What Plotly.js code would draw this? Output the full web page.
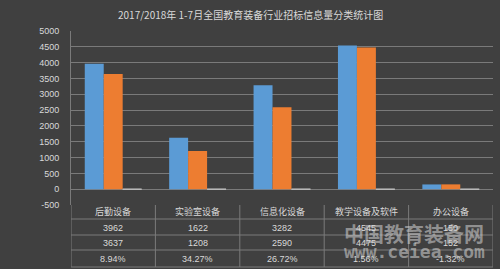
<!DOCTYPE html>
<html><head><meta charset="utf-8">
<script src="https://cdn.plot.ly/plotly-3.0.1.min.js"></script>
<style>body{margin:0;background:#404040;}#c{width:500px;height:269px;}</style>
</head><body><div id="c"></div>
<script>
const categories = ['后勤设备','实验室设备','信息化设备','教学设备及软件','办公设备'];
const series2018 = [3962,1622,3282,4545,150];
const series2017 = [3637,1208,2590,4475,152];
const growth = [0.0894,0.3427,0.2672,0.0156,-0.0132];
const seriesNames = ['2018.1-7月','2017.1-7月','同比'];
const colors = ['#5b9bd5','#ed7d31','#a5a5a5'];
const yTicks = [-500,0,500,1000,1500,2000,2500,3000,3500,4000,4500,5000];

const txt = '#d9d9d9';
const grid = '#7a7a7a';
const cjk = '"Noto Sans CJK SC", "Liberation Sans", sans-serif';
const idx = categories.map((_,i)=>i);

const traces = [series2018, series2017, growth].map((vals,k)=>({
  type:'bar', x: idx, y: vals, name: seriesNames[k],
  marker:{color: colors[k], line:{width: k===2?1:0, color:'#bfbfbf'}},
  hoverinfo:'skip'
}));

// pixel geometry helpers (plot area: y px 31..205)
const pyTop = 31, pyBot = 205, ph = pyBot - pyTop;
const py = p => (pyBot - p) / ph;
const rowLines = [219, 235, 250, 267];
const rowCenters = [227.5, 243, 258.5];
const headerCenter = 212;
const leftX = -1.19;

const shapes = [];
// vertical column lines in table
for (let i=0;i<=categories.length;i++){
  shapes.push({type:'line', xref:'x', yref:'paper', x0:i-0.5, x1:i-0.5, y0:py(205), y1:py(267), line:{color:grid,width:1}});
}
// horizontal row lines
rowLines.forEach(r=>{
  shapes.push({type:'line', xref:'x', yref:'paper', x0:leftX, x1:categories.length-0.5, y0:py(r), y1:py(r), line:{color:grid,width:1}});
});
// left border of row header box
shapes.push({type:'line', xref:'x', yref:'paper', x0:leftX, x1:leftX, y0:py(219), y1:py(267), line:{color:grid,width:1}});
// legend keys
const rows = [series2018, series2017, growth];
rows.forEach((_,k)=>{
  const c = rowCenters[k];
  shapes.push({type:'rect', xref:'x', yref:'paper', x0:leftX+0.05, x1:leftX+0.12, y0:py(c+3), y1:py(c-3), fillcolor:colors[k], line:{width:0}});
});

const annotations = [];
annotations.push({text:'2017/2018年 1-7月全国教育装备行业招标信息量分类统计图', xref:'paper', yref:'paper', x:0.425, y:py(14), xanchor:'center', yanchor:'middle', showarrow:false, font:{family:cjk, size:10, color:txt}});
categories.forEach((c,i)=>{
  annotations.push({text:c, xref:'x', yref:'paper', x:i, y:py(headerCenter), showarrow:false, yanchor:'middle', font:{family:cjk, size:9, color:txt}});
});
rows.forEach((vals,k)=>{
  annotations.push({text:seriesNames[k], xref:'x', yref:'paper', x:leftX+0.14, y:py(rowCenters[k]), xanchor:'left', yanchor:'middle', showarrow:false, font:{family:cjk, size:9, color:txt}});
  vals.forEach((v,i)=>{
    const s = k===2 ? (v*100).toFixed(2)+'%' : String(v);
    annotations.push({text:s, xref:'x', yref:'paper', x:i, y:py(rowCenters[k]), yanchor:'middle', showarrow:false, font:{family:'"Liberation Sans", sans-serif', size:9, color:txt}});
  });
});
// watermark
annotations.push({text:'中国教育装备网', xref:'paper', yref:'paper', x:(414-70.7)/422.3, y:py(233), xanchor:'center', yanchor:'middle', showarrow:false, font:{family:'"Noto Sans CJK SC", serif', size:20, color:'rgba(215,215,215,0.55)', weight:700}});
annotations.push({text:'www.ceiea.com', xref:'paper', yref:'paper', x:(414-70.7)/422.3, y:py(251), xanchor:'center', yanchor:'middle', showarrow:false, font:{family:'"DejaVu Sans Mono", monospace', size:18, color:'rgba(215,215,215,0.55)', weight:700}});

const layout = {
  width:500, height:269,
  paper_bgcolor:'#404040', plot_bgcolor:'#404040',
  margin:{l:70.7, r:7, t:31, b:64, pad:0},
  showlegend:false,
  barmode:'group', bargap:0.326, bargroupgap:0,
  xaxis:{range:[-0.5,4.5], showticklabels:false, showgrid:false, zeroline:false, showline:false, ticks:'', fixedrange:true},
  yaxis:{range:[-500,5000], tickvals:yTicks, ticktext:yTicks.map(String), showgrid:true, gridcolor:grid, gridwidth:1,
         zeroline:true, zerolinecolor:grid, zerolinewidth:1, showline:true, linecolor:grid, linewidth:1,
         ticks:'', ticklabelstandoff:9, tickfont:{family:'"Liberation Sans", sans-serif', size:9, color:txt}},
  shapes: shapes,
  annotations: annotations,
  font:{family:cjk, color:txt}
};
Plotly.newPlot('c', traces, layout, {staticPlot:true, displayModeBar:false});
</script>
</body></html>
